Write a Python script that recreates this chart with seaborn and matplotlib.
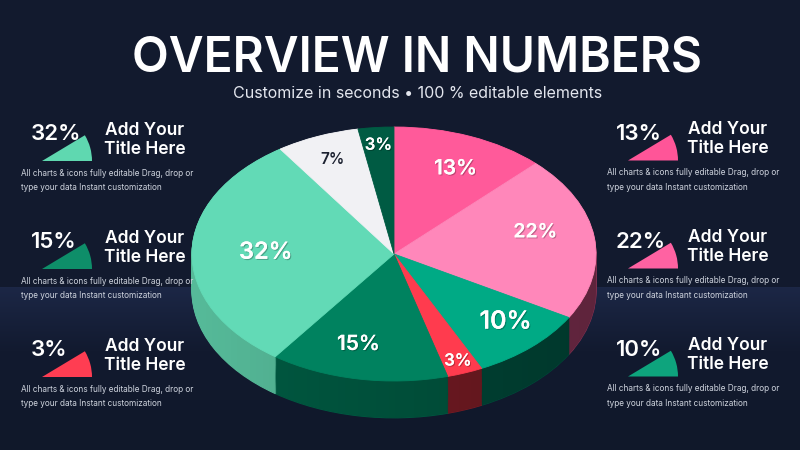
import numpy as np
import matplotlib
matplotlib.use("Agg")
import matplotlib.pyplot as plt
import seaborn as sns
from matplotlib.patches import Wedge, Polygon
import matplotlib.patheffects as pe
from matplotlib.colors import to_rgb

# ---------------- data ----------------
slice_values = [13, 22, 10, 3, 15, 32, 7, 3]
slice_colors = ["#ff5a9a", "#ff87ba", "#00aa85", "#ff3b4e", "#00825f", "#62dab6", "#f1f1f4", "#005b43"]
side_colors = ["#8a2d55", "#7e3050", "#004a3a", "#7a1c25", "#005a42", "#56ba99", "#b9b9c2", "#003d2d"]
label_colors = ["white", "white", "white", "white", "white", "white", "#1c2130", "white"]

left_values = [32, 15, 3]
left_colors = ["#5fd8b0", "#0e8e69", "#ff3d52"]
right_values = [13, 22, 10]
right_colors = ["#ff5598", "#ff62a2", "#0ea47d"]

title_text = "OVERVIEW IN NUMBERS"
subtitle_text = "Customize in seconds \u2022 100 % editable elements"
panel_title = ["Add Your", "Title Here"]
panel_desc = ["All charts & icons fully editable Drag, drop or",
              "type your data Instant customization"]

# ---------------- style ----------------
label_sizes = [15, 14, 18, 12, 15, 17, 11, 12]
label_radius = [0.74, 0.72, 0.77, 0.90, 0.73, 0.635, 0.80, 0.86]
label_shift = [-2.0, 6.0, 3.0, 0.0, -3.7, 0.0, 0.0, 0.0]
row_offsets = [0, 108, 216]
FONT = "Inter"

sns.set_theme(style="dark")
plt.rcParams["font.family"] = [FONT, "DejaVu Sans"]

fig = plt.figure(figsize=(8, 4.5), dpi=100)

# background gradient
bg = fig.add_axes([0, 0, 1, 1])
bg.axis("off")
ys = np.arange(450)
stops_y = [0, 286, 287, 350, 449]
stops_c = [to_rgb("#121a2e"), to_rgb("#121a2e"), to_rgb("#1c2746"),
           to_rgb("#121a2f"), to_rgb("#10182a")]
grad = np.zeros((450, 1, 3))
for ch in range(3):
    grad[:, 0, ch] = np.interp(ys, stops_y, [c[ch] for c in stops_c])
bg.imshow(grad, aspect="auto", extent=(0, 800, 450, 0))
bg.set_xlim(0, 800)
bg.set_ylim(450, 0)

# ---------------- 3D pie ----------------
cx, cy, rx, ry = 394, 254, 202, 127
xl, yl_top, yl_bot = 1.05, 1.05, 1.45
L = cx - xl * rx
W = 2 * xl * rx
T = cy - yl_top * ry
B = cy + yl_bot * ry
ax = fig.add_axes([L / 800, (450 - B) / 450, W / 800, (B - T) / 450])
ax.set_facecolor("none")
depth = 0.29
n_layers = 36
for off in np.linspace(depth, 0.004, n_layers):
    wedges, _ = ax.pie(slice_values, colors=side_colors, startangle=90,
                       counterclock=False, center=(0, -off))
    for w in wedges:
        w.set_edgecolor(w.get_facecolor())
        w.set_linewidth(0.8)

# horizontal shading on the side
th = np.linspace(np.pi, 2 * np.pi, 200)
upper = np.column_stack([np.cos(th), np.sin(th)])
lower = np.column_stack([np.cos(th[::-1]), np.sin(th[::-1]) - depth])
clip = Polygon(np.vstack([upper, lower]), closed=True, transform=ax.transData,
               facecolor="none", edgecolor="none")
ax.add_patch(clip)
shade = np.zeros((2, 200, 4))
xs = np.linspace(0, 1, 200)
shade[:, :, 3] = np.clip(0.0 + 0.25 * xs, 0, 1)
sh = ax.imshow(shade, extent=(-1, 1, -1 - depth, 0), aspect="auto", zorder=2)
sh.set_clip_path(clip)

wedges, _ = ax.pie(slice_values, colors=slice_colors, startangle=90,
                   counterclock=False, center=(0, 0))
for w in wedges:
    w.set_edgecolor(w.get_facecolor())
    w.set_linewidth(0.6)
    w.set_zorder(3)

for w, v, r, c, s, d in zip(wedges, slice_values, label_radius, label_colors,
                            label_sizes, label_shift):
    mid = np.deg2rad((w.theta1 + w.theta2) / 2 + d)
    effects = [pe.withSimplePatchShadow(offset=(0.8, -0.8), shadow_rgbFace="black", alpha=0.25),
               pe.Normal()] if c == "white" else []
    ax.text(r * np.cos(mid), r * np.sin(mid), f"{v}%", ha="center", va="center",
            color=c, fontsize=s, fontweight="semibold", zorder=5, path_effects=effects)

ax.set_aspect("auto")
ax.set_xlim(-xl, xl)
ax.set_ylim(-yl_bot, yl_top)
ax.axis("off")

# ---------------- overlay: titles and panels ----------------
ov = fig.add_axes([0, 0, 1, 1])
ov.set_facecolor("none")
ov.axis("off")
ov.set_xlim(0, 800)
ov.set_ylim(450, 0)

ov.text(417, 71, title_text, ha="center", va="baseline", color="white",
        fontsize=34.5, fontweight="semibold")
ov.text(418, 98, subtitle_text, ha="center", va="baseline", color="#e3e6ee",
        fontsize=11.5, fontweight="normal")


def panel(x_pct, tip_x, title_x, desc_x, base, value, color):
    ov.text(x_pct, base + 140, f"{value}%", ha="left", va="baseline", color="white",
            fontsize=16, fontweight="semibold")
    ov.add_patch(Wedge((tip_x, base + 161), 50, -31, 0, facecolor=color,
                       edgecolor="none"))
    ov.text(title_x, base + 135, panel_title[0], ha="center", va="baseline",
            color="white", fontsize=12.5, fontweight="semibold")
    ov.text(title_x, base + 153.5, panel_title[1], ha="center", va="baseline",
            color="white", fontsize=12.5, fontweight="semibold")
    ov.text(desc_x, base + 175.5, panel_desc[0], ha="left", va="baseline",
            color="#cfd4de", fontsize=5.9)
    ov.text(desc_x, base + 190.5, panel_desc[1], ha="left", va="baseline",
            color="#cfd4de", fontsize=5.9)


for off, v, c in zip(row_offsets, left_values, left_colors):
    panel(31, 42, 145, 21, off, v, c)
for off, v, c in zip(row_offsets, right_values, right_colors):
    panel(616, 628, 728, 607, off - 0.5, v, c)

fig.savefig("out.png", dpi=100)
